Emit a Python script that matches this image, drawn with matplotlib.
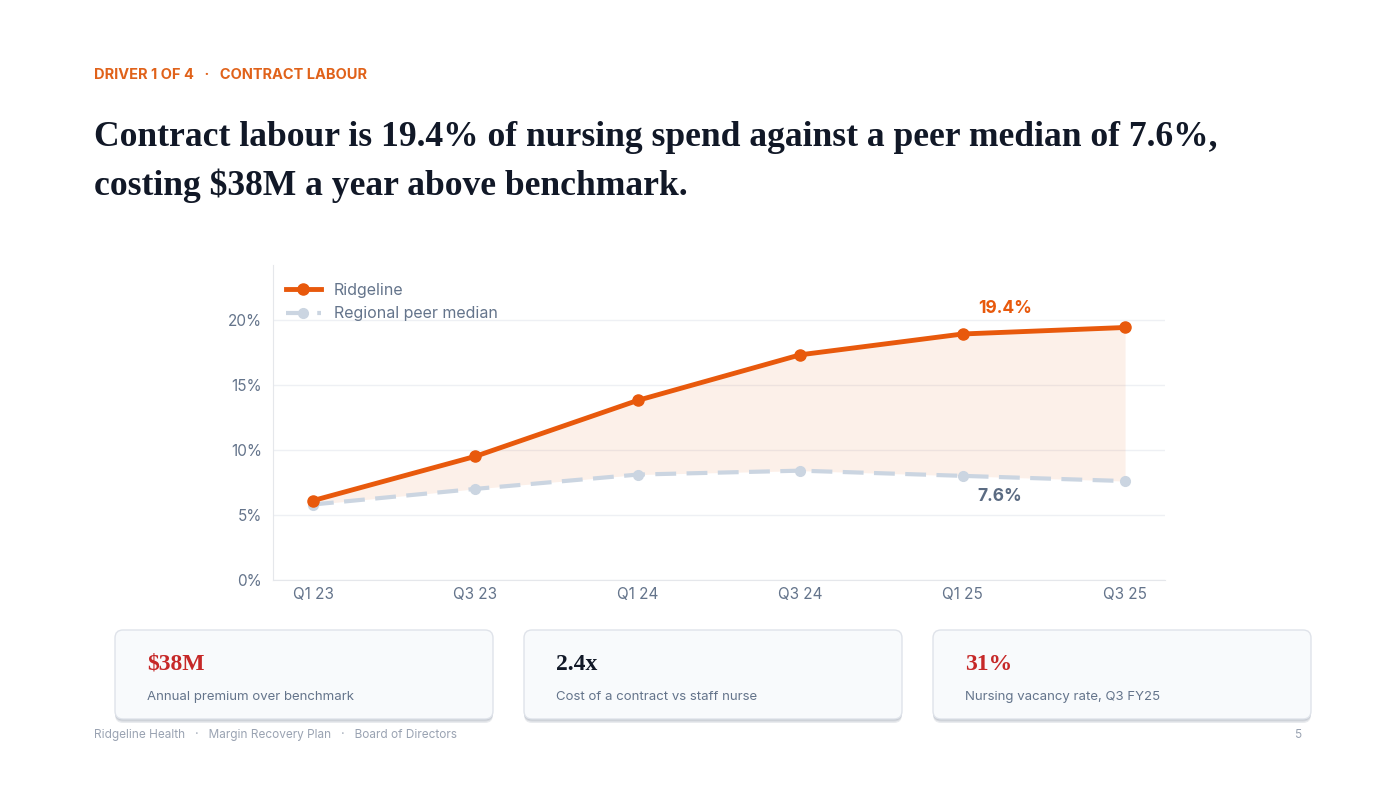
import matplotlib
matplotlib.use("Agg")
import matplotlib.pyplot as plt
from matplotlib.patches import FancyBboxPatch
from matplotlib.ticker import FuncFormatter

plt.rcParams['font.family'] = ['Inter', 'DejaVu Sans']

# data
quarters = ["Q1 23", "Q3 23", "Q1 24", "Q3 24", "Q1 25", "Q3 25"]
ridgeline = [6.1, 9.5, 13.8, 17.3, 18.9, 19.4]
peer_median = [5.8, 7.0, 8.1, 8.4, 8.0, 7.6]

card_values = ["$38M", "2.4x", "31%"]
card_captions = ["Annual premium over benchmark",
                 "Cost of a contract vs staff nurse",
                 "Nursing vacancy rate, Q3 FY25"]
card_colors = ["#c62828", "#111827", "#c62828"]

ORANGE = "#e8590c"
PEER = "#cbd5e1"
INK = "#111827"
MUTED = "#64748b"

fig = plt.figure(figsize=(14, 7.88), dpi=100)

# background axes in pixel coords
bg = fig.add_axes([0, 0, 1, 1], zorder=0)
bg.set_xlim(0, 1400)
bg.set_ylim(788, 0)
bg.axis('off')

bg.text(94, 75, "DRIVER 1 OF 4   ·   CONTRACT LABOUR", color="#e0621a",
        fontsize=10.5, fontweight='bold', va='center', ha='left')
bg.text(94, 137, "Contract labour is 19.4% of nursing spend against a peer median of 7.6%,",
        family='Liberation Serif', fontsize=25.6, fontweight='bold', color=INK,
        va='center', ha='left')
bg.text(94, 186, "costing $38M a year above benchmark.",
        family='Liberation Serif', fontsize=25.6, fontweight='bold', color=INK,
        va='center', ha='left')

# KPI cards
card_x = [115, 524, 933]
for x0, val, cap, col in zip(card_x, card_values, card_captions, card_colors):
    for off, a in [(4, 0.25), (2.5, 0.35), (1.2, 0.5)]:
        shadow = FancyBboxPatch((x0, 630 + off), 378, 89,
                                boxstyle="round,pad=0,rounding_size=8",
                                fc="#aab1bd", ec='none', alpha=a)
        bg.add_patch(shadow)
    card = FancyBboxPatch((x0, 630), 378, 89,
                          boxstyle="round,pad=0,rounding_size=8",
                          fc="#f8fafc", ec="#dfe3ea", lw=1)
    bg.add_patch(card)
    bg.text(x0 + 32, 664, val, family='Liberation Serif', fontsize=17,
            fontweight='bold', color=col, va='center', ha='left')
    bg.text(x0 + 32, 697, cap, fontsize=9.5, color=MUTED, va='center', ha='left')

bg.text(94, 735, "Ridgeline Health   ·   Margin Recovery Plan   ·   Board of Directors",
        fontsize=8.5, color="#9aa3b2", va='center', ha='left')
bg.text(1301, 735, "5", fontsize=8.5, color="#9aa3b2", va='center', ha='right')

# chart
ax = fig.add_axes([273 / 1400, 1 - 580 / 788, 892 / 1400, 315 / 788], zorder=1)
ax.patch.set_alpha(0)
x = list(range(len(quarters)))

ax.fill_between(x, peer_median, ridgeline, color=ORANGE, alpha=0.09, lw=0, zorder=1)
ax.plot(x, peer_median, color=PEER, lw=3, ls=(0, (5, 2.5)), marker='o', ms=7,
        label="Regional peer median", zorder=3)
ax.plot(x, ridgeline, color=ORANGE, lw=3.5, marker='o', ms=8,
        label="Ridgeline", zorder=4)

ax.annotate(f"{ridgeline[-1]:.1f}%", (x[-1], ridgeline[-1]), xytext=(-86, 14),
            textcoords='offset points', color=ORANGE, fontsize=12.5,
            fontweight='bold', ha='center', va='center')
ax.annotate(f"{peer_median[-1]:.1f}%", (x[-1], peer_median[-1]), xytext=(-90, -11),
            textcoords='offset points', color="#5b6b82", fontsize=12.5,
            fontweight='bold', ha='center', va='center')

ax.set_xlim(-0.246, len(quarters) - 1 + 0.246)
ax.set_ylim(0, 24.2)
ax.set_yticks([0, 5, 10, 15, 20])
ax.yaxis.set_major_formatter(FuncFormatter(lambda v, p: f"{v:.0f}%"))
ax.set_xticks(x)
ax.set_xticklabels(quarters)
ax.tick_params(length=0, labelsize=11, labelcolor=MUTED)
ax.tick_params(axis='x', pad=5)
ax.tick_params(axis='y', pad=8)
ax.grid(axis='y', color="#eef0f4", lw=1, zorder=0)
ax.set_axisbelow(True)
for side in ['top', 'right']:
    ax.spines[side].set_visible(False)
for side in ['left', 'bottom']:
    ax.spines[side].set_color("#e5e7eb")

handles, labels = ax.get_legend_handles_labels()
ax.legend(handles[::-1], labels[::-1], loc='upper left', frameon=False,
          fontsize=11.5, labelcolor=MUTED, handlelength=2.2, labelspacing=0.55,
          bbox_to_anchor=(0.0, 0.985), borderaxespad=0.4)

fig.savefig("out.png", dpi=100)
